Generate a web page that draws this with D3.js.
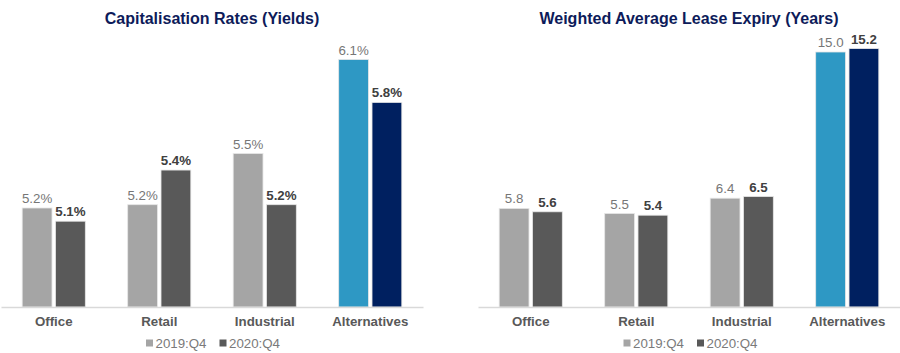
<!DOCTYPE html>
<html><head><meta charset="utf-8">
<script src="https://cdn.jsdelivr.net/npm/d3@7"></script>
<style>body{margin:0;background:#fff}svg{display:block}text{font-family:"Liberation Sans",Arial,sans-serif}</style>
</head><body><svg id="c" width="900" height="353"></svg>
<script>
const categories = ["Office", "Retail", "Industrial", "Alternatives"];
const seriesNames = ["2019:Q4", "2020:Q4"];
const capRates2019 = [5.20, 5.22, 5.53, 6.10];
const capRates2020 = [5.12, 5.43, 5.22, 5.84];
const wale2019 = [5.8, 5.5, 6.4, 15.0];
const wale2020 = [5.6, 5.4, 6.5, 15.2];
const capTicks = [4.6, 6.4];
const waleTicks = [0, 18];

const svg = d3.select("#c");
const grey19 = "#a5a5a5", grey20 = "#595959", blue19 = "#2e98c4", navy20 = "#002060";

function panel(opts) {
  const g = svg.append("g");
  const x = d3.scaleBand().domain(categories).range([opts.x0, opts.x1]).paddingInner(0).paddingOuter(0);
  const x1 = d3.scaleBand().domain(seriesNames).range([0, x.bandwidth()]).paddingInner(0.106).paddingOuter(0.636);
  const y = d3.scaleLinear().domain(opts.domain).range([307, 307 - opts.k * (opts.domain[1] - opts.domain[0])]);
  const rows = [];
  categories.forEach((c, i) => {
    rows.push({c, s: seriesNames[0], v: opts.s19[i], fill: c === "Alternatives" ? blue19 : grey19, bold: false});
    rows.push({c, s: seriesNames[1], v: opts.s20[i], fill: c === "Alternatives" ? navy20 : grey20, bold: true});
  });
  g.selectAll("rect.bar").data(rows).join("rect").attr("class", "bar")
    .attr("x", d => x(d.c) + x1(d.s)).attr("width", x1.bandwidth())
    .attr("y", d => y(d.v)).attr("height", d => 307 - y(d.v))
    .attr("fill", d => d.fill).attr("stroke", "#e6e6e6").attr("stroke-width", 0.8);
  g.selectAll("text.val").data(rows).join("text").attr("class", "val")
    .attr("x", d => x(d.c) + x1(d.s) + x1.bandwidth() / 2).attr("y", d => y(d.v) - 5)
    .attr("text-anchor", "middle").attr("font-size", "13.3px")
    .attr("font-weight", d => d.bold ? "bold" : "normal")
    .attr("fill", d => d.bold ? "#404040" : "#767676")
    .text(d => d.v.toFixed(1) + opts.suffix);
  // axis
  const ax = g.append("g").attr("transform", "translate(0,307)")
    .call(d3.axisBottom(x).tickSize(0).tickPadding(10));
  ax.select(".domain").attr("stroke", "#d9d9d9").attr("stroke-width", 1.3);
  ax.selectAll("text").attr("font-size", "13.3px").attr("font-weight", "bold").attr("fill", "#595959")
    .attr("font-family", "Liberation Sans, Arial, sans-serif");
  // title
  g.append("text").attr("x", (opts.x0 + opts.x1) / 2).attr("y", 23.5).attr("text-anchor", "middle")
    .attr("font-size", "16px").attr("font-weight", "bold").attr("fill", "#0d1b5a").text(opts.title);
  // legend
  const lg = g.append("g");
  seriesNames.forEach((s, i) => {
    const lx = opts.legX + i * 73.5;
    lg.append("rect").attr("x", lx).attr("y", 339.5).attr("width", 7).attr("height", 7)
      .attr("fill", i === 0 ? grey19 : grey20);
    lg.append("text").attr("x", lx + 9.5).attr("y", 348).attr("font-size", "13.3px").attr("fill", "#7a7a7a").text(s);
  });
}

panel({x0: 1, x1: 423, domain: capTicks, k: 165, s19: capRates2019, s20: capRates2020, suffix: "%",
  title: "Capitalisation Rates (Yields)", legX: 146});
panel({x0: 478, x1: 900, domain: waleTicks, k: 17.0, s19: wale2019, s20: wale2020, suffix: "",
  title: "Weighted Average Lease Expiry (Years)", legX: 623.5});
</script></body></html>
